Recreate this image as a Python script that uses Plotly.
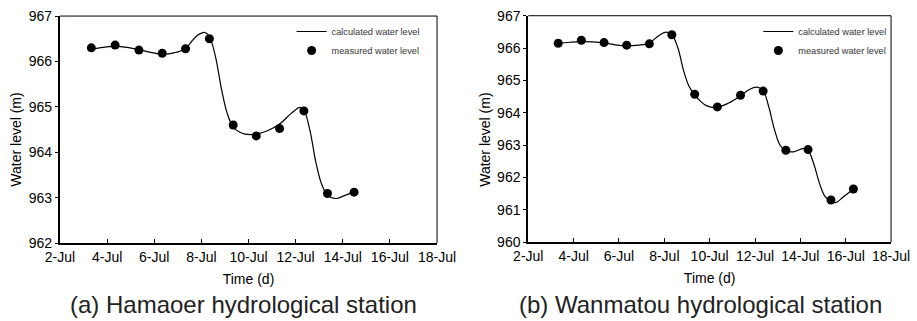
import plotly.graph_objects as go

# ---------------- data ----------------
# Hamaoer station (day of July)
ham_meas_day = [3.33, 4.34, 5.35, 6.34, 7.33, 8.34, 9.35, 10.33, 11.32, 12.35, 13.35, 14.48]
ham_meas_lvl = [966.30, 966.36, 966.25, 966.18, 966.28, 966.50, 964.60, 964.36, 964.52, 964.91, 963.09, 963.12]
ham_calc_day = [3.33, 3.83, 4.34, 4.84, 5.35, 5.85, 6.34, 6.84, 7.33, 7.6, 7.85, 8.13, 8.34, 8.6, 8.85,
                9.1, 9.35, 9.6, 9.85, 10.33, 10.83, 11.32, 11.8, 12.18, 12.35, 12.6, 12.85, 13.1,
                13.35, 13.7, 14.1, 14.48]
ham_calc_lvl = [966.27, 966.31, 966.33, 966.31, 966.26, 966.20, 966.16, 966.19, 966.28, 966.45, 966.58,
                966.64, 966.55, 966.10, 965.40, 964.85, 964.55, 964.45, 964.40, 964.40, 964.48, 964.62,
                964.85, 964.99, 964.93, 964.50, 963.80, 963.30, 963.06, 962.98, 963.05, 963.12]

# Wanmatou station (day of July)
wan_meas_day = [3.32, 4.34, 5.34, 6.34, 7.34, 8.33, 9.34, 10.34, 11.36, 12.36, 13.36, 14.34, 15.35, 16.34]
wan_meas_lvl = [966.15, 966.24, 966.17, 966.09, 966.13, 966.41, 964.57, 964.18, 964.54, 964.67,
                962.84, 962.86, 961.30, 961.64]
wan_calc_day = [3.32, 3.83, 4.34, 4.84, 5.34, 5.84, 6.34, 6.84, 7.34, 7.6, 7.85, 8.08, 8.33, 8.6, 8.85,
                9.1, 9.34, 9.6, 9.85, 10.3, 10.84, 11.36, 11.75, 12.1, 12.36, 12.6, 12.85, 13.1,
                13.36, 13.7, 14.14, 14.34, 14.6, 14.85, 15.1, 15.35, 15.55, 15.9, 16.34]
wan_calc_lvl = [966.15, 966.18, 966.20, 966.19, 966.16, 966.10, 966.07, 966.09, 966.15, 966.30, 966.43,
                966.49, 966.42, 966.00, 965.30, 964.80, 964.55, 964.35, 964.22, 964.16, 964.30, 964.52,
                964.72, 964.79, 964.68, 964.20, 963.50, 963.00, 962.82, 962.79, 962.90, 962.84, 962.40,
                961.80, 961.40, 961.28, 961.22, 961.40, 961.64]

tick_days = [2, 4, 6, 8, 10, 12, 14, 16, 18]
tick_labels = ["2-Jul", "4-Jul", "6-Jul", "8-Jul", "10-Jul", "12-Jul", "14-Jul", "16-Jul", "18-Jul"]

calc_name = "calculated water level"
meas_name = "measured water level"
y_title = "Water level (m)"
x_title = "Time (d)"
subtitles = ["(a) Hamaoer hydrological station", "(b) Wanmatou hydrological station"]

# ---------------- figure ----------------
FONT = "Arial, Liberation Sans, sans-serif"
fig = go.Figure()

panels = [
    (ham_calc_day, ham_calc_lvl, ham_meas_day, ham_meas_lvl, "x", "y", "legend"),
    (wan_calc_day, wan_calc_lvl, wan_meas_day, wan_meas_lvl, "x2", "y2", "legend2"),
]
for cd, cl, md, ml, xa, ya, lg in panels:
    fig.add_trace(go.Scatter(x=cd, y=cl, mode="lines", name=calc_name, xaxis=xa, yaxis=ya,
                             line=dict(color="black", width=1.2, shape="spline", smoothing=1.0),
                             legend=lg, hoverinfo="skip"))
    fig.add_trace(go.Scatter(x=md, y=ml, mode="markers", name=meas_name, xaxis=xa, yaxis=ya,
                             marker=dict(color="black", size=9), legend=lg))

xcommon = dict(range=[2, 18], tickvals=tick_days, ticktext=tick_labels, showline=True,
               linecolor="black", linewidth=2, ticks="inside", ticklen=4, tickwidth=1,
               tickcolor="black", showgrid=False, zeroline=False, automargin=False,
               tickfont=dict(family=FONT, size=14, color="black"),
               title=dict(text=x_title, font=dict(family=FONT, size=14, color="black"), standoff=10))
ycommon = dict(dtick=1, showline=True, linecolor="black", linewidth=2, ticks="outside",
               ticklen=3, tickwidth=1, tickcolor="black", showgrid=False, zeroline=False,
               automargin=False, tickfont=dict(family=FONT, size=14, color="black"))

fig.update_layout(
    width=917, height=321,
    margin=dict(l=0, r=0, t=0, b=0, pad=0, autoexpand=False),
    paper_bgcolor="white", plot_bgcolor="white",
    xaxis=dict(domain=[0.0654, 0.4766], anchor="y", **xcommon),
    yaxis=dict(domain=[0.243, 0.950], anchor="x", range=[962, 967], **ycommon),
    xaxis2=dict(domain=[0.5761, 0.9717], anchor="y2", **xcommon),
    yaxis2=dict(domain=[0.246, 0.951], anchor="x2", range=[960, 967], **ycommon),
    legend=dict(x=0.318, y=0.947, xanchor="left", yanchor="top", bgcolor="rgba(0,0,0,0)",
                font=dict(family=FONT, size=9.2, color="#333"), itemwidth=30, tracegroupgap=0),
    legend2=dict(x=0.827, y=0.947, xanchor="left", yanchor="top", bgcolor="rgba(0,0,0,0)",
                 font=dict(family=FONT, size=9.2, color="#333"), itemwidth=30, tracegroupgap=0),
    showlegend=True,
)

# thin top / right frame lines
for xr, yr in [("x domain", "y domain"), ("x2 domain", "y2 domain")]:
    fig.add_shape(type="line", xref=xr, yref=yr, x0=0, x1=1, y0=1, y1=1,
                  line=dict(color="black", width=1))
    fig.add_shape(type="line", xref=xr, yref=yr, x0=1, x1=1, y0=0, y1=1,
                  line=dict(color="black", width=1))

# y-axis titles
for xc in [0.0175, 0.528]:
    fig.add_annotation(text=y_title, xref="paper", yref="paper", x=xc, y=0.565, textangle=-90,
                       showarrow=False, xanchor="center", yanchor="middle",
                       font=dict(family=FONT, size=14, color="black"))

# panel subtitles
for xc, txt in [(0.266, subtitles[0]), (0.764, subtitles[1])]:
    fig.add_annotation(text=txt, xref="paper", yref="paper", x=xc, y=0.05, showarrow=False,
                       xanchor="center", yanchor="middle",
                       font=dict(family=FONT, size=24, color="#222"))

fig.write_html("out.html", config={"displayModeBar": False},
               post_script="document.body.style.margin='0px';document.body.style.overflow='hidden';")
